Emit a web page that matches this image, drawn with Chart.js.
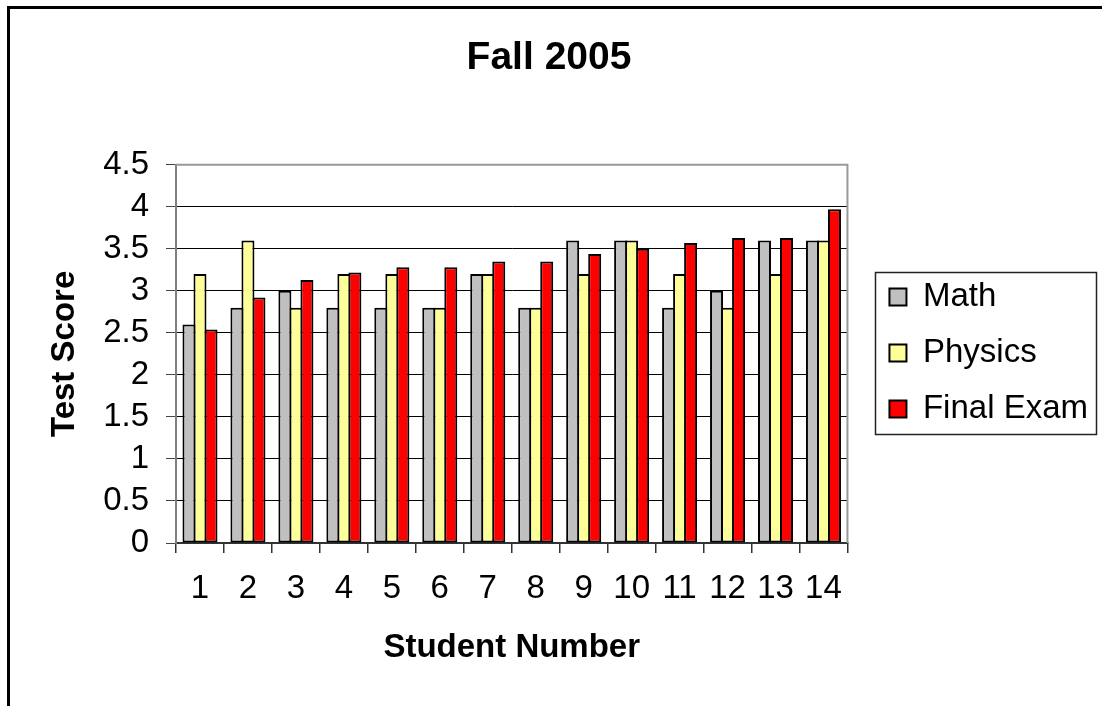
<!DOCTYPE html>
<html>
<head>
<meta charset="utf-8">
<script src="https://cdn.jsdelivr.net/npm/chart.js@4/dist/chart.umd.min.js"></script>
<style>
  html, body { margin: 0; padding: 0; background: #fff; }
  canvas { display: block; }
</style>
</head>
<body>
<canvas id="chart" width="1102" height="706"></canvas>
<script>
const students = ['1', '2', '3', '4', '5', '6', '7', '8', '9', '10', '11', '12', '13', '14'];
const mathScores = [2.6, 2.8, 3.0, 2.8, 2.8, 2.8, 3.2, 2.8, 3.6, 3.6, 2.8, 3.0, 3.6, 3.6];
const physicsScores = [3.2, 3.6, 2.8, 3.2, 3.2, 2.8, 3.2, 2.8, 3.2, 3.6, 3.2, 2.8, 3.2, 3.6];
const finalScores = [2.54, 2.92, 3.13, 3.22, 3.28, 3.28, 3.35, 3.35, 3.44, 3.5, 3.57, 3.63, 3.63, 3.97];
const yTicks = [0, 0.5, 1, 1.5, 2, 2.5, 3, 3.5, 4, 4.5];
const yTickLabels = ['0', '0.5', '1', '1.5', '2', '2.5', '3', '3.5', '4', '4.5'];

const FONT = '"Liberation Sans", Arial, sans-serif';

// frame of the sheet, plot border and legend box
const decorations = {
    id: 'decorations',
    beforeDraw(chart) {
        const ctx = chart.ctx;
        ctx.save();
        ctx.fillStyle = '#fff';
        ctx.fillRect(0, 0, chart.width, chart.height);
        ctx.strokeStyle = '#000';
        ctx.lineWidth = 3;
        ctx.beginPath();
        ctx.moveTo(8.5, chart.height);
        ctx.lineTo(8.5, 7.5);
        ctx.lineTo(chart.width, 7.5);
        ctx.stroke();
        ctx.restore();
    },
    afterDraw(chart) {
        const ctx = chart.ctx;
        const a = chart.chartArea;
        ctx.save();
        ctx.strokeStyle = '#999';
        ctx.lineWidth = 2;
        ctx.beginPath();
        ctx.moveTo(a.left, a.top);
        ctx.lineTo(a.right, a.top);
        ctx.lineTo(a.right, a.bottom);
        ctx.stroke();

        const hb = chart.legend.legendHitBoxes;
        if (hb && hb.length) {
            const first = hb[0];
            const last = hb[hb.length - 1];
            const left = first.left - 14;
            const top = first.top + first.height / 2 - 25;
            const bottom = last.top + last.height / 2 + 25;
            ctx.strokeStyle = '#222';
            ctx.lineWidth = 1.5;
            ctx.strokeRect(Math.round(left) + 0.5, Math.round(top) + 0.5, 221, Math.round(bottom - top));
        }
        ctx.restore();
    }
};

const barStyle = {
    borderColor: '#000',
    borderWidth: 2,
    borderSkipped: false,
    barPercentage: 1.18,
    categoryPercentage: 0.689
};

new Chart(document.getElementById('chart'), {
    type: 'bar',
    data: {
        labels: students,
        datasets: [
            { label: 'Math', data: mathScores, backgroundColor: '#C0C0C0', ...barStyle },
            { label: 'Physics', data: physicsScores, backgroundColor: '#FFFF99', ...barStyle },
            { label: 'Final Exam', data: finalScores, backgroundColor: '#FF0000', ...barStyle }
        ]
    },
    plugins: [decorations],
    options: {
        responsive: false,
        animation: false,
        layout: { padding: { left: 0, right: 4, top: 0, bottom: 0 } },
        plugins: {
            title: {
                display: true,
                text: 'Fall 2005',
                color: '#000',
                font: { family: FONT, size: 39, weight: 'bold' },
                padding: { top: 35, bottom: 83 }
            },
            legend: {
                position: 'right',
                maxWidth: 300,
                labels: {
                    color: '#000',
                    font: { family: FONT, size: 33 },
                    boxWidth: 17,
                    boxHeight: 17,
                    padding: 23
                }
            },
            tooltip: { enabled: false }
        },
        scales: {
            x: {
                type: 'category',
                grid: {
                    display: true,
                    drawOnChartArea: false,
                    tickLength: 10,
                    tickColor: '#333',
                    lineWidth: 1.5
                },
                border: { color: '#333', width: 2 },
                ticks: {
                    color: '#000',
                    font: { family: FONT, size: 33 },
                    padding: 16,
                    maxRotation: 0,
                    autoSkip: false
                },
                title: {
                    display: true,
                    text: 'Student Number',
                    color: '#000',
                    font: { family: FONT, size: 33, weight: 'bold' },
                    padding: { top: 0, bottom: 38 }
                },
                afterFit: (s) => { s.height = 163; }
            },
            y: {
                min: 0,
                max: 4.5,
                afterBuildTicks: (s) => { s.ticks = yTicks.map(v => ({ value: v })); },
                grid: {
                    color: (c) => (c.tick && (c.tick.value === 0 || c.tick.value === 4.5)) ? 'rgba(0,0,0,0)' : '#000',
                    lineWidth: 1,
                    tickLength: 10,
                    tickColor: '#444'
                },
                border: { color: '#808080', width: 2 },
                ticks: {
                    color: '#000',
                    font: { family: FONT, size: 33 },
                    padding: 17,
                    autoSkip: false,
                    callback: (v) => yTickLabels[yTicks.indexOf(v)]
                },
                title: {
                    display: true,
                    text: 'Test Score',
                    color: '#000',
                    font: { family: FONT, size: 33, weight: 'bold' },
                    padding: { top: 45, bottom: 0 }
                },
                afterFit: (s) => { s.width = 176; }
            },
            gap: {
                type: 'linear',
                position: 'right',
                display: true,
                grid: { display: false },
                border: { display: false },
                ticks: { display: false },
                afterFit: (s) => { s.width = 19; }
            }
        }
    }
});
</script>
</body>
</html>
